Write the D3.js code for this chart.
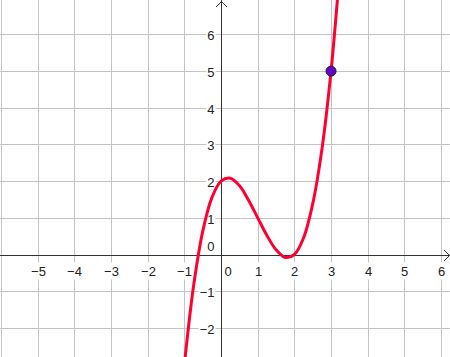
<!DOCTYPE html>
<html>
<head>
<meta charset="utf-8">
<script src="https://cdn.jsdelivr.net/npm/d3@7"></script>
<style>
html,body{margin:0;padding:0;background:#fff;}
svg{display:block;}
text{font-family:"Liberation Sans",Arial,sans-serif;font-size:13px;fill:#222;}
</style>
</head>
<body>
<svg id="chart" width="450" height="357"></svg>
<script>
// Data
const xDomain = [-6.03, 6.245];
const yDomain = [-2.795, 6.94];
const gridX = [-6, -5, -4, -3, -2, -1, 1, 2, 3, 4, 5, 6];
const gridY = [-2, -1, 1, 2, 3, 4, 5, 6];
const xTickLabels = [-5, -4, -3, -2, -1, 1, 2, 3, 4, 5, 6];
const yTickLabels = [-2, -1, 1, 2, 3, 4, 5, 6];
const curveX = [-1.0, -0.75, -0.5, -0.25, 0, 0.25, 0.5, 0.75, 1.0, 1.25, 1.5, 1.75, 2.0, 2.25, 2.5, 2.75, 3.0, 3.25];
const curveY = [-3.0, -0.86, 0.63, 1.55, 2.0, 2.08, 1.88, 1.48, 1.0, 0.52, 0.13, -0.08, 0.0, 0.45, 1.38, 2.86, 5.0, 7.89];
const pointX = [3];
const pointY = [5];

const W = 450, H = 357;
const svg = d3.select("#chart");
const x = d3.scaleLinear().domain(xDomain).range([0, W]);
const y = d3.scaleLinear().domain(yDomain).range([H, 0]);
const px = v => Math.round(x(v)) + 0.5;
const py = v => Math.round(y(v)) + 0.5;

// grid
const grid = svg.append("g").attr("stroke", "#c4c4c4").attr("stroke-width", 1).attr("shape-rendering", "crispEdges");
grid.selectAll("line.gx").data(gridX).join("line")
  .attr("x1", d => px(d)).attr("x2", d => px(d)).attr("y1", 0).attr("y2", H);
grid.selectAll("line.gy").data(gridY).join("line")
  .attr("y1", d => py(d)).attr("y2", d => py(d)).attr("x1", 0).attr("x2", W);

// labels with white background
const labels = svg.append("g");
function addLabel(tx, ty, str, anchor) {
  const t = labels.append("text").attr("x", tx).attr("y", ty).attr("text-anchor", anchor).text(str);
  const b = t.node().getBBox();
  labels.insert("rect", "text").attr("x", b.x - 1).attr("y", b.y - 1)
    .attr("width", b.width + 2).attr("height", b.height + 2).attr("fill", "#fff");
}
const fmt = v => (v < 0 ? "\u2212" + Math.abs(v) : String(v));
xTickLabels.forEach(v => addLabel(px(v), py(0) + 20, fmt(v), "middle"));
yTickLabels.forEach(v => addLabel(px(0) - 7, py(v) + 5, fmt(v), "end"));
addLabel(px(0) + 3, py(0) + 20, "0", "start");
addLabel(px(0) - 7, py(0) - 5, "0", "end");

// axes
const ax = svg.append("g").attr("stroke", "#333").attr("stroke-width", 1).attr("fill", "none");
ax.append("line").attr("x1", 0).attr("x2", W).attr("y1", py(0)).attr("y2", py(0)).attr("shape-rendering", "crispEdges");
ax.append("line").attr("x1", px(0)).attr("x2", px(0)).attr("y1", 0).attr("y2", H).attr("shape-rendering", "crispEdges");
ax.append("path").attr("d", `M${W - 6},${py(0) - 5.5}L${W - 0.5},${py(0)}L${W - 6},${py(0) + 5.5}`);
ax.append("path").attr("d", `M${px(0) - 5.5},${7}L${px(0)},${1.5}L${px(0) + 5.5},${7}`);

// curve
svg.append("clipPath").attr("id", "clip").append("rect").attr("width", W).attr("height", H);
const pts = curveX.map((v, i) => [v, curveY[i]]);
const line = d3.line().x(d => x(d[0])).y(d => y(d[1])).curve(d3.curveCatmullRom.alpha(0.5));
svg.append("path").datum(pts).attr("clip-path", "url(#clip)")
  .attr("d", line).attr("fill", "none").attr("stroke", "#ff0033").attr("stroke-width", 3);

// point
svg.selectAll("circle.pt").data(pointX.map((v, i) => [v, pointY[i]])).join("circle")
  .attr("cx", d => x(d[0])).attr("cy", d => y(d[1])).attr("r", 5)
  .attr("fill", "#6a00cc").attr("stroke", "#222").attr("stroke-width", 1);
</script>
</body>
</html>
